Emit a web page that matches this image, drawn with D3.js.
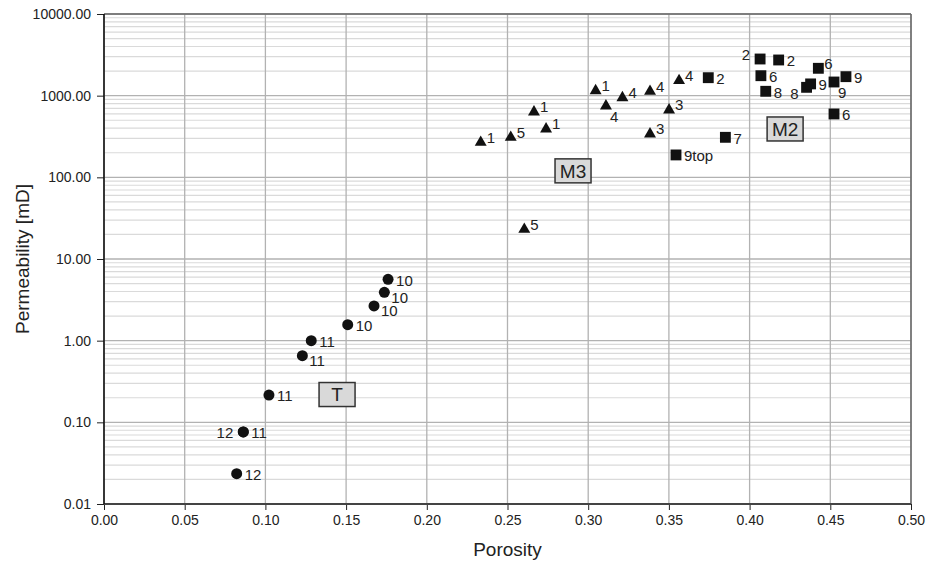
<!DOCTYPE html>
<html>
<head>
<meta charset="utf-8">
<script src="https://cdn.jsdelivr.net/npm/d3@7"></script>
<style>
  body { margin: 0; background: #fff; }
  text { font-family: "Liberation Sans", Arial, sans-serif; }
  .axis .domain { display: none; }
  .axis text { font-size: 14px; fill: #222; }
  .axis line { stroke: #222; }
  .pt-label { font-size: 15px; fill: #222; }
</style>
</head>
<body>
<svg id="chart"></svg>
<script>
// axis ticks
const xTicks = [0, 0.05, 0.10, 0.15, 0.20, 0.25, 0.30, 0.35, 0.40, 0.45, 0.50];
const yTicks = [0.01, 0.1, 1, 10, 100, 1000, 10000];

// M2 samples (squares)
const squarePoro  = [0.4065, 0.418, 0.3744, 0.407, 0.410, 0.4426, 0.4353, 0.4378, 0.4523, 0.4597, 0.4523, 0.385, 0.3544];
const squarePerm  = [2812, 2735, 1660, 1756, 1131, 2163, 1265, 1393, 1470, 1709, 597, 309, 188];
const squareLabel = ['2', '2', '2', '6', '8', '6', '8', '9', '9', '9', '6', '7', '9top'];
const squarePlace = ['ul', 'r', 'r', 'r', 'r', 'ur', 'bl', 'r', 'b', 'r', 'r', 'r', 'r'];

// M3 samples (triangles)
const triPoro  = [0.2334, 0.252, 0.2664, 0.2739, 0.3046, 0.311, 0.3212, 0.3383, 0.3563, 0.3501, 0.3383, 0.2604];
const triPerm  = [268, 309, 631, 391, 1151, 748, 944, 1130, 1527, 668, 340, 23.1];
const triLabel = ['1', '5', '1', '1', '1', '4', '4', '4', '4', '3', '3', '5'];
const triPlace = ['ur', 'ur', 'ur', 'ur', 'ur', 'b', 'ur', 'ur', 'ur', 'ur', 'ur', 'ur'];

// T samples (circles)
const circPoro  = [0.176, 0.1737, 0.1673, 0.151, 0.1284, 0.1229, 0.1022, 0.0863, 0.0863, 0.0822];
const circPerm  = [5.64, 3.91, 2.66, 1.57, 1.0, 0.655, 0.216, 0.0762, 0.0762, 0.0235];
const circLabel = ['10', '10', '10', '10', '11', '11', '11', '12', '11', '12'];
const circPlace = ['r', 'br', 'br', 'r', 'r', 'br', 'r', 'l', 'r', 'r'];

// zone boxes
const zoneName = ['M3', 'M2', 'T'];
const zonePoro = [0.2906, 0.422, 0.1444];
const zonePerm = [120, 391, 0.219];

const W = 938, H = 562;
const margin = {top: 14, right: 27, bottom: 58, left: 104};
const width = W - margin.left - margin.right;
const height = H - margin.top - margin.bottom;

const svg = d3.select('#chart').attr('width', W).attr('height', H);
const chart = svg.append('g').attr('transform', `translate(${margin.left},${margin.top})`);

const xScale = d3.scaleLinear().domain([0, 0.5]).range([0, width]);
const yScale = d3.scaleLog().domain([0.01, 10000]).range([height, 0]);

// minor horizontal grid (2..9 in each decade)
const minor = [];
yTicks.slice(0, -1).forEach(d => { for (let k = 2; k <= 9; k++) minor.push(d * k); });
chart.append('g').selectAll('line').data(minor).join('line')
  .attr('x1', 0).attr('x2', width)
  .attr('y1', d => yScale(d)).attr('y2', d => yScale(d))
  .attr('stroke', '#dadada').attr('stroke-width', 1.2);

// major grid
chart.append('g').selectAll('line').data(yTicks).join('line')
  .attr('x1', 0).attr('x2', width)
  .attr('y1', d => yScale(d)).attr('y2', d => yScale(d))
  .attr('stroke', '#b2b2b2').attr('stroke-width', 1.3);
chart.append('g').selectAll('line').data(xTicks).join('line')
  .attr('y1', 0).attr('y2', height)
  .attr('x1', d => xScale(d)).attr('x2', d => xScale(d))
  .attr('stroke', '#b2b2b2').attr('stroke-width', 1.3);

// frame
chart.append('line').attr('x1', 0).attr('x2', width).attr('y1', 0).attr('y2', 0)
  .attr('stroke', '#666').attr('stroke-width', 1.5);
chart.append('line').attr('x1', width).attr('x2', width).attr('y1', 0).attr('y2', height)
  .attr('stroke', '#666').attr('stroke-width', 1.5);

// axes
const xAxis = d3.axisBottom(xScale).tickValues(xTicks).tickFormat(d3.format('.2f')).tickSize(6).tickPadding(5);
const yAxis = d3.axisLeft(yScale).tickValues(yTicks).tickFormat(d3.format('.2f')).tickSize(7).tickPadding(6);
chart.append('g').attr('class', 'axis').attr('transform', `translate(0,${height})`).call(xAxis);
chart.append('g').attr('class', 'axis').call(yAxis);
chart.append('line').attr('x1', 0).attr('x2', width).attr('y1', height).attr('y2', height)
  .attr('stroke', '#444').attr('stroke-width', 2);
chart.append('line').attr('x1', 0).attr('x2', 0).attr('y1', 0).attr('y2', height)
  .attr('stroke', '#111').attr('stroke-width', 1.6);

// axis titles
svg.append('text')
  .attr('x', margin.left + width / 2).attr('y', 556)
  .attr('text-anchor', 'middle').attr('font-size', 19).attr('fill', '#222')
  .text('Porosity');
svg.append('text')
  .attr('transform', `translate(29,${margin.top + height / 2}) rotate(-90)`)
  .attr('text-anchor', 'middle').attr('font-size', 19).attr('fill', '#222')
  .text('Permeability [mD]');

// zone boxes
const zones = zoneName.map((n, i) => ({name: n, x: zonePoro[i], y: zonePerm[i]}));
const zg = chart.append('g').selectAll('g').data(zones).join('g')
  .attr('transform', d => `translate(${xScale(d.x)},${yScale(d.y)})`);
zg.append('rect').attr('x', -18).attr('y', -12).attr('width', 36).attr('height', 24)
  .attr('fill', '#d9d9d9').attr('stroke', '#333').attr('stroke-width', 1.5);
zg.append('text').attr('text-anchor', 'middle').attr('dy', '0.36em')
  .attr('font-size', 19).attr('fill', '#222').text(d => d.name);

// point labels offsets
const place = {
  r:  {dx: 8,   dy: 1,   anchor: 'start'},
  l:  {dx: -10, dy: 1,   anchor: 'end'},
  ur: {dx: 6,   dy: -5,  anchor: 'start'},
  ul: {dx: -10, dy: -4,  anchor: 'end'},
  br: {dx: 7,   dy: 5,   anchor: 'start'},
  bl: {dx: -8,  dy: 6,   anchor: 'end'},
  b:  {dx: 4,   dy: 11,  anchor: 'start'}
};

function drawSeries(poro, perm, labels, places, symbol, size) {
  const pts = poro.map((p, i) => ({x: p, y: perm[i], label: labels[i], place: places[i]}));
  const g = chart.append('g');
  g.selectAll('path').data(pts).join('path')
    .attr('d', d3.symbol().type(symbol).size(size))
    .attr('transform', d => `translate(${xScale(d.x)},${yScale(d.y)})`)
    .attr('fill', '#111');
  g.selectAll('text').data(pts).join('text')
    .attr('class', 'pt-label')
    .attr('x', d => xScale(d.x) + place[d.place].dx)
    .attr('y', d => yScale(d.y) + place[d.place].dy)
    .attr('dy', '0.36em')
    .attr('text-anchor', d => place[d.place].anchor)
    .text(d => d.label);
}

drawSeries(squarePoro, squarePerm, squareLabel, squarePlace, d3.symbolSquare, 118);
drawSeries(triPoro, triPerm, triLabel, triPlace, d3.symbolTriangle, 62);
drawSeries(circPoro, circPerm, circLabel, circPlace, d3.symbolCircle, 95);
</script>
</body>
</html>
